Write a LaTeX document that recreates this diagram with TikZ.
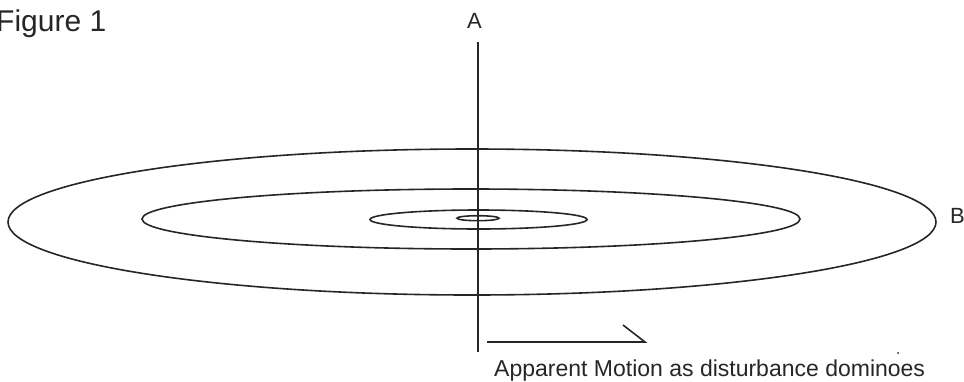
\documentclass[tikz,border=0pt]{standalone}
\usepackage{fontspec}
\setmainfont{Liberation Sans}
\begin{document}
\begin{tikzpicture}[x=1pt,y=-1pt,
  ln/.style={line width=1.6pt, black!85},
  lbl/.style={inner sep=0pt, text=black!85}]
\useasboundingbox (0,0) rectangle (964,381);
% labels
\node[lbl, anchor=base west] (fig) at (-4,31) {\fontsize{30}{30}\selectfont Figure 1};
\node[lbl, anchor=base] (A) at (474.5,28) {\fontsize{22}{22}\selectfont A};
\node[lbl, anchor=base west] (B) at (950,223) {\fontsize{22}{22}\selectfont B};
\node[lbl, anchor=base west] (cap) at (494,376) {\fontsize{23}{23}\selectfont Apparent Motion as disturbance dominoes};
% axis
\coordinate (axtop) at (478,42);
\coordinate (axbot) at (478,352);
\draw[ln] (axtop) -- (axbot);
% ellipses
\draw[ln] (472,222) ellipse [x radius=464, y radius=73];
\draw[ln] (471,219) ellipse [x radius=329, y radius=30];
\draw[ln] (478.5,219.5) ellipse [x radius=108.5, y radius=9.5];
\draw[ln] (478,218.2) ellipse [x radius=21, y radius=2.5];
% arrow-like mark
\coordinate (h1) at (487,342);
\coordinate (h2) at (645,342);
\coordinate (h3) at (623,325);
\draw[ln] (h1) -- (h2) -- (h3);
% stray dot
\fill[black!85] (898,353) circle (1pt);
\end{tikzpicture}
\end{document}
